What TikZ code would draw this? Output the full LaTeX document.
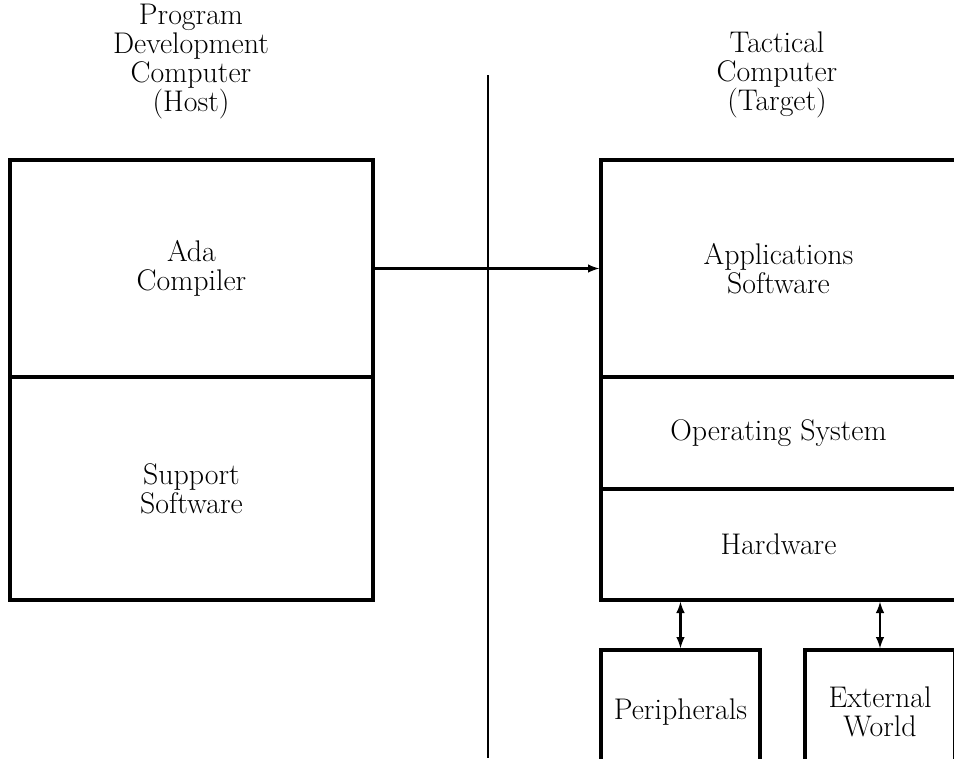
\documentclass[tikz,border=0pt]{standalone}
\usepackage{tikz}

\begin{document}
\begin{tikzpicture}[x=0.02cm, y=-0.02cm, >=latex,
        font=\fontsize{17}{16.5}\selectfont,
        box/.style={draw, line width=2pt, rectangle, align=center, inner sep=0pt}]
        \useasboundingbox (0,0) rectangle (954,758);
        \clip (0,0) rectangle (954,758);
        % host side
        \node[align=center] (host) at (191,62) {Program\\Development\\Computer\\(Host)};
        \node[box, minimum width=363*0.02cm, minimum height=217*0.02cm] (ada) at (191.5,268.5) {Ada\\Compiler};
        \node[box, minimum width=363*0.02cm, minimum height=223*0.02cm] (support) at (191.5,488.5) {Support\\Software};
        % target side
        \node[align=center] (target) at (777,75) {Tactical\\Computer\\(Target)};
        \node[box, minimum width=355*0.02cm, minimum height=217*0.02cm] (apps) at (778.5,268.5) {Applications\\Software};
        \node[box, minimum width=355*0.02cm, minimum height=112*0.02cm] (os) at (778.5,433) {Operating System};
        \node[box, minimum width=355*0.02cm, minimum height=111*0.02cm] (hw) at (778.5,544.5) {Hardware};
        \node[box, minimum width=159*0.02cm, minimum height=124*0.02cm] (periph) at (680.5,712) {Peripherals};
        \node[box, minimum width=150*0.02cm, minimum height=124*0.02cm] (world) at (880,712) {External\\World};
        % divider
        \draw [line width=1.6pt] (488,75) -- (488,758);
        \draw [->, line width=1.2pt] (ada.east) -- (apps.west);
        \draw [<->, line width=1.2pt] (hw.south -| periph.north) -- (periph.north);
        \draw [<->, line width=1.2pt] (hw.south -| world.north) -- (world.north);
    \end{tikzpicture}
\end{document}
